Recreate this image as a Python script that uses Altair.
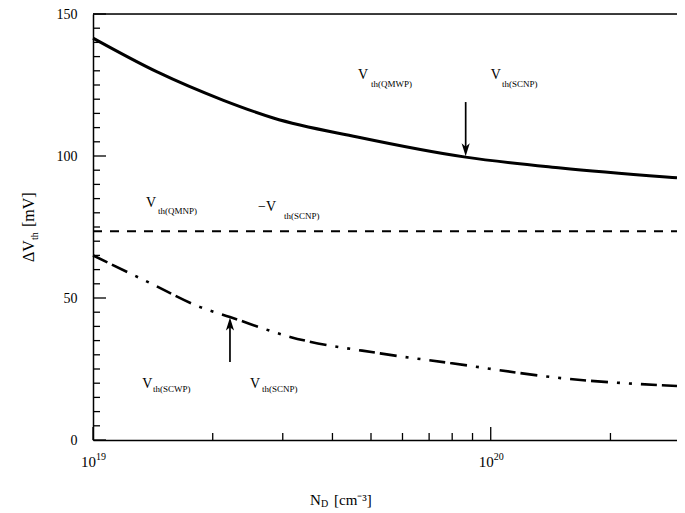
import altair as alt
import pandas as pd

# ---- data ----
N_solid = [1.0e19, 1.45e19, 2.12e19, 2.84e19, 4.62e19, 8.65e19, 1.5e20, 2.76e20, 2.94e20]
dV_solid = [141.5, 129.6, 119.7, 113.4, 106.7, 99.6, 95.8, 92.6, 92.3]

N_dash = [1.0e19, 2.94e20]
dV_dash = [73.5, 73.5]

N_dd = [1.0e19, 1.39e19, 1.86e19, 2.21e19, 3.13e19, 5.27e19, 7.91e19, 1.5e20, 2.94e20]
dV_dd = [65.0, 55.3, 46.8, 43.3, 36.3, 30.5, 27.1, 21.8, 19.0]

x_tick_major = [1e19, 1e20]
x_tick_base = ["10", "10"]
x_tick_exp = ["19", "20"]
x_tick_minor = [2e19, 3e19, 4e19, 5e19, 6e19, 7e19, 8e19, 9e19, 2e20]
y_tick_major = [0, 50, 100, 150]
y_tick_minor = [v for v in range(5, 150, 5) if v % 50 != 0]

# annotation labels: main "V" and subscript parts
lab_V_N = [4.64e19, 1.0e20, 1.36e19, 2.6e19, 1.33e19, 2.48e19]
lab_V_v = [128.5, 128.5, 83.5, 82.0, 19.7, 19.7]
lab_V_t = ["V", "V", "V", "\u2212V", "V", "V"]
lab_s_N = [5.0e19, 1.068e20, 1.456e19, 3.02e19, 1.416e19, 2.66e19]
lab_s_v = [125.4, 125.4, 80.5, 79.0, 17.8, 17.8]
lab_s_t = ["th(QMWP)", "th(SCNP)", "th(QMNP)", "th(SCNP)", "th(SCWP)", "th(SCNP)"]

# arrows
arr_N = [8.65e19, 2.21e19]
arr_from = [119.0, 27.5]
arr_head = [102.5, 40.5]

FONT = "Liberation Serif"
W, H = 584, 426

xs = alt.Scale(type="log", domain=[1e19, 2.94e20], nice=False)
ys = alt.Scale(domain=[0, 150], nice=False)

xaxis = alt.Axis(values=x_tick_major, labels=False, ticks=False, grid=False, title=None,
                 domainColor="black", domainWidth=1.5)
yaxis = alt.Axis(values=y_tick_major, ticks=False, grid=False, title=None, labelFont=FONT,
                 labelFontSize=14, labelColor="black", labelPadding=16, domainColor="black",
                 domainWidth=1.5, labelFlush=False)

X = alt.X("N:Q", scale=xs, axis=xaxis)
Y = alt.Y("v:Q", scale=ys, axis=yaxis)

solid = alt.Chart(pd.DataFrame({"N": N_solid, "v": dV_solid})).mark_line(
    color="black", strokeWidth=3, interpolate="monotone").encode(x=X, y=Y)
dashed = alt.Chart(pd.DataFrame({"N": N_dash, "v": dV_dash})).mark_line(
    color="black", strokeWidth=2, strokeDash=[9, 8]).encode(x=X, y=Y)
dashdot = alt.Chart(pd.DataFrame({"N": N_dd, "v": dV_dd})).mark_line(
    color="black", strokeWidth=2.6, strokeDash=[16, 5, 17, 9, 3, 9, 3, 9],
    interpolate="monotone").encode(x=X, y=Y)

arr_df = pd.DataFrame({"N": arr_N, "v": arr_from, "v2": arr_head})
arrow_lines = alt.Chart(arr_df).mark_rule(color="black", strokeWidth=1.7).encode(
    x=X, y=Y, y2="v2:Q")
head_down = alt.Chart(pd.DataFrame({"N": arr_N[:1], "v": arr_head[:1]})).mark_point(
    shape="M0,1L-0.55,-0.75L0,-0.3L0.55,-0.75Z", filled=True, color="black", opacity=1,
    size=220).encode(x=X, y=Y)
head_up = alt.Chart(pd.DataFrame({"N": arr_N[1:], "v": arr_head[1:]})).mark_point(
    shape="M0,-1L-0.55,0.75L0,0.3L0.55,0.75Z", filled=True, color="black", opacity=1,
    size=220).encode(x=X, y=Y)

labV = alt.Chart(pd.DataFrame({"N": lab_V_N, "v": lab_V_v, "t": lab_V_t})).mark_text(
    font=FONT, fontSize=14, align="left", baseline="middle", color="black").encode(
    x=X, y=Y, text="t:N")
labS = alt.Chart(pd.DataFrame({"N": lab_s_N, "v": lab_s_v, "t": lab_s_t})).mark_text(
    font=FONT, fontSize=9, align="left", baseline="middle", color="black").encode(
    x=X, y=Y, text="t:N")

# x tick labels as base + superscript exponent
xlab_df = pd.DataFrame({"N": x_tick_major, "b": x_tick_base, "e": x_tick_exp})
xlab_base = alt.Chart(xlab_df).mark_text(
    font=FONT, fontSize=15, align="right", baseline="middle", color="black", dx=3).encode(
    x=X, y=alt.value(H + 22), text="b:N")
xlab_exp = alt.Chart(xlab_df).mark_text(
    font=FONT, fontSize=10, align="left", baseline="middle", color="black", dx=3, dy=-5).encode(
    x=X, y=alt.value(H + 22), text="e:N")

# inward ticks
ytick_major = alt.Chart(pd.DataFrame({"v": y_tick_major})).mark_rule(
    color="black", strokeWidth=1.3).encode(y=Y, x=alt.value(0), x2=alt.value(13))
ytick_minor = alt.Chart(pd.DataFrame({"v": y_tick_minor})).mark_rule(
    color="black", strokeWidth=1.3).encode(y=Y, x=alt.value(0), x2=alt.value(7))
xtick_major = alt.Chart(pd.DataFrame({"N": x_tick_major})).mark_rule(
    color="black", strokeWidth=1.3).encode(x=X, y=alt.value(H), y2=alt.value(H - 13))
xtick_minor = alt.Chart(pd.DataFrame({"N": x_tick_minor})).mark_rule(
    color="black", strokeWidth=1.3).encode(x=X, y=alt.value(H), y2=alt.value(H - 7))
top_border = alt.Chart(pd.DataFrame({"v": [150]})).mark_rule(
    color="black", strokeWidth=1.5).encode(y=Y)

one = pd.DataFrame({"a": [0]})


def txt(s, px, py, size, angle=0):
    return alt.Chart(one).mark_text(text=s, font=FONT, fontSize=size, align="left",
                                    baseline="middle", color="black", angle=angle).encode(
        x=alt.value(px), y=alt.value(py))


titles = [
    txt("\u0394V", -64, 248, 16, 270),
    txt("th", -58, 226, 10, 270),
    txt("[mV]", -64, 213, 16, 270),
    txt("N", 217, 486, 15),
    txt("D", 228, 490, 10),
    txt("[cm\u207b\u00b3]", 241, 486, 15),
]

chart = alt.layer(
    top_border, ytick_major, ytick_minor, xtick_major, xtick_minor,
    solid, dashed, dashdot, arrow_lines, head_down, head_up, labV, labS,
    xlab_base, xlab_exp, *titles
).properties(
    width=W, height=H,
    autosize=alt.AutoSizeParams(type="none"),
    padding={"left": 85, "top": 6, "right": 0, "bottom": 70},
).configure_view(stroke=None).configure(background="white")

chart.save("out.html", embed_options={"renderer": "svg", "actions": False})
